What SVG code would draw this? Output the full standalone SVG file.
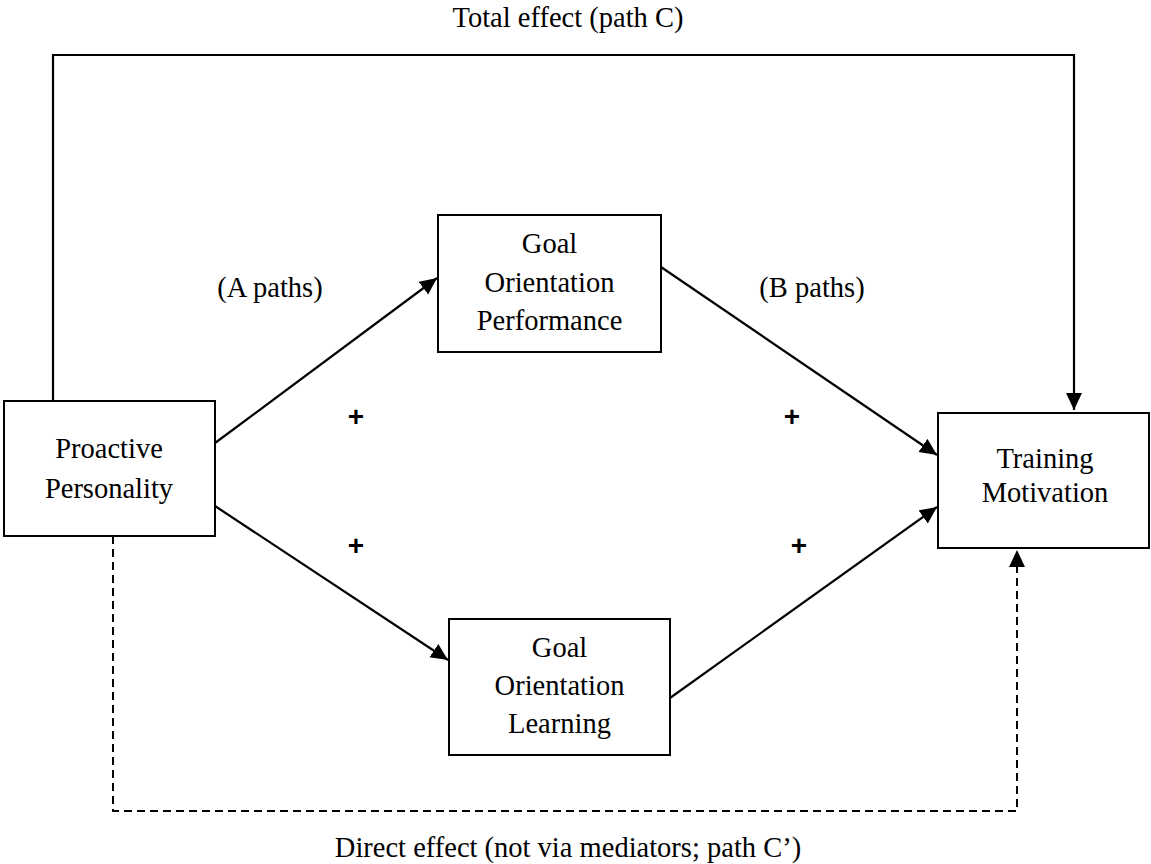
<svg xmlns="http://www.w3.org/2000/svg" width="1151" height="864" viewBox="0 0 1151 864">
<style>
.box{fill:#fff;stroke:#000;stroke-width:2}
.t{font-family:'Liberation Serif','Times New Roman',Times,serif;font-size:28.5px;fill:#000;text-anchor:middle}
.plus{font-family:'Liberation Sans',Arial,sans-serif;font-size:28px;font-weight:bold;fill:#000;text-anchor:middle}
.ln{fill:none;stroke:#000;stroke-width:2.2}
.dash{fill:none;stroke:#000;stroke-width:2;stroke-dasharray:8 5}
</style>
<defs>
<marker id="ah" markerUnits="userSpaceOnUse" markerWidth="20" markerHeight="18" refX="17" refY="8" orient="auto">
<path d="M0,0 L17,8 L0,16 Z" fill="#000"/>
</marker>
</defs>
<g id="connectors">
<path class="ln" d="M53,400 V55 H1074 V410" marker-end="url(#ah)"/>
<path class="dash" d="M113,536 V811 H1017 V550" marker-end="url(#ah)"/>
<line class="ln" x1="215" y1="443" x2="437" y2="278" marker-end="url(#ah)"/>
<line class="ln" x1="215" y1="506" x2="448" y2="660" marker-end="url(#ah)"/>
<line class="ln" x1="661" y1="267" x2="937" y2="455" marker-end="url(#ah)"/>
<line class="ln" x1="670" y1="698" x2="937" y2="507" marker-end="url(#ah)"/>
</g>
<g id="proactive">
<rect class="box" x="4" y="401" width="211" height="135"/>
<text class="t" x="109" y="458" font-family="Liberation Serif, serif">Proactive</text>
<text class="t" x="109" y="498" font-family="Liberation Serif, serif">Personality</text>
</g>
<g id="gop">
<rect class="box" x="438" y="215" width="223" height="137"/>
<text class="t" x="549.5" y="253">Goal</text>
<text class="t" x="549.5" y="291.5">Orientation</text>
<text class="t" x="549.5" y="330">Performance</text>
</g>
<g id="gol">
<rect class="box" x="449" y="619" width="221" height="136"/>
<text class="t" x="559.5" y="656.5">Goal</text>
<text class="t" x="559.5" y="695">Orientation</text>
<text class="t" x="559.5" y="733">Learning</text>
</g>
<g id="training">
<rect class="box" x="938" y="413" width="211" height="135"/>
<text class="t" x="1045" y="468">Training</text>
<text class="t" x="1045" y="502">Motivation</text>
</g>
<g id="labels">
<text class="t" x="568" y="27">Total effect (path C)</text>
<text class="t" x="568" y="857">Direct effect (not via mediators; path C’)</text>
<text class="t" x="270" y="297">(A paths)</text>
<text class="t" x="812" y="297">(B paths)</text>
<text class="plus" x="356" y="426">+</text>
<text class="plus" x="792" y="426">+</text>
<text class="plus" x="356" y="555">+</text>
<text class="plus" x="799" y="555">+</text>
</g>
</svg>
